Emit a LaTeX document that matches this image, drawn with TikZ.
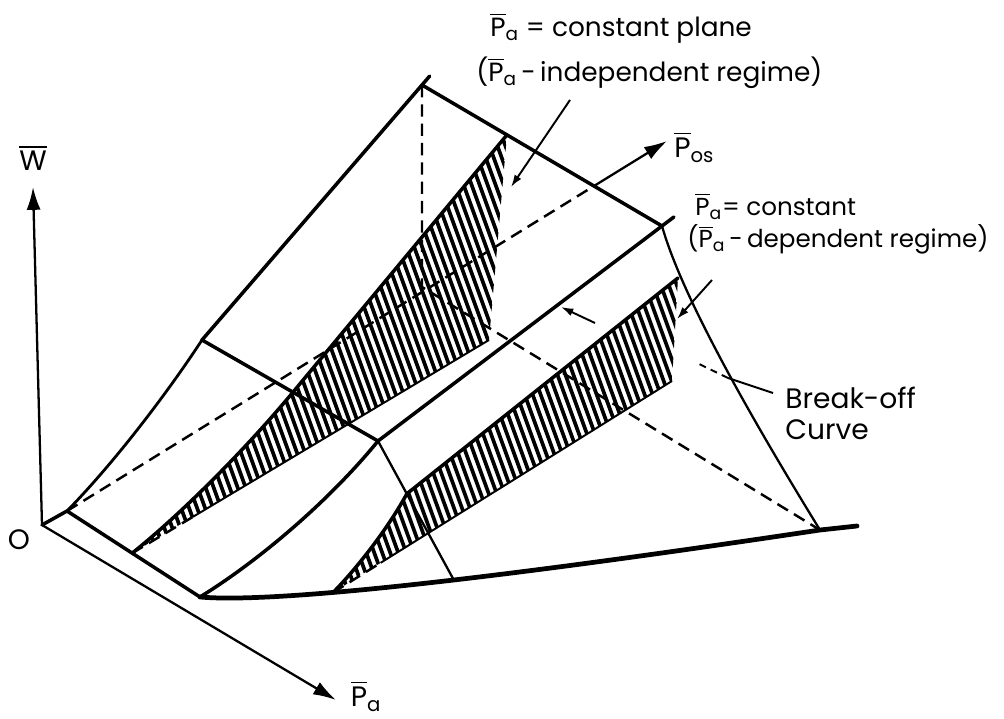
\documentclass[tikz,border=0pt]{standalone}
\usepackage{amsmath}
\usepackage{fontspec}
\setmainfont{Poppins}
\usetikzlibrary{arrows.meta,calc}

\newcommand{\pbar}[1]{$\overline{\text{P}}_{\text{#1}}$}
\newcommand{\wbar}{$\overline{\text{W}}$}

\tikzset{
  >=Latex,
  edge/.style={line width=2pt, line cap=round, line join=round},
  bold/.style={line width=2.7pt, line cap=round},
  thinedge/.style={line width=1.3pt, line cap=round},
  axis/.style={line width=1.3pt, -{Latex[length=13pt,width=8pt]}},
  hidden/.style={line width=1.4pt, dash pattern=on 7pt off 4pt},
  hatch/.style={line width=2.1pt},
  leader/.style={line width=1.1pt},
  pointer/.style={line width=1.1pt, -{Latex[length=7pt,width=4.5pt]}},
  lbl/.style={inner sep=0pt, font=\fontsize{16}{19}\selectfont}
}

\begin{document}
\begin{tikzpicture}[x=0.02cm,y=-0.02cm]
\useasboundingbox (0,0) rectangle (1004,719);

% ------------------------------------------------------------------
% corner points of the surface (pixel grid, y downwards)
% ------------------------------------------------------------------
\coordinate (O) at (42,525);
\coordinate (A) at (67,511);
\coordinate (B) at (202,340);
\coordinate (C) at (422,85);
\coordinate (D) at (662,226);
\coordinate (E) at (820,530);
\coordinate (F) at (200,597);
\coordinate (G) at (378,441);
\coordinate (Cbase) at (422,287);
\coordinate (tipW) at (33,187);
\coordinate (tipPa) at (336,700);
\coordinate (tipPos) at (667,141);
\coordinate (endBot) at (857,526);

% front bottom curve
\draw[bold] (F) .. controls (280,604) and (520,575) .. (E)
  coordinate[pos=0.34] (T2) coordinate[pos=0.54] (H) -- (endBot);

% points of the two constant planes
\coordinate (T1) at ($(A)!0.49!(F)$);
\coordinate (K1) at ($(B)!0.517!(G)$);
\coordinate (U1) at ($(C)!0.354!(D)$);
\coordinate (V1) at (489,340);
\coordinate (L1) at ($(T1)!0.17!(V1)$);
\coordinate (K2) at ($(G)!0.38!(H)$);
\coordinate (U2) at (678,278);
\coordinate (V2) at (672,381);
\coordinate (L2) at ($(T2)!0.14!(V2)$);

% ------------------------------------------------------------------
% hatched planes
% ------------------------------------------------------------------
\begin{scope}
  \clip (T1) .. controls (180,515) and (245,450) .. (K1) -- (U1) -- (V1) -- cycle;
  \foreach \h in {-40,-32,...,512}
    \draw[hatch] (\h,120) -- ++(160,440);
\end{scope}
\begin{scope}
  \clip (T2) .. controls (360,565) and (390,525) .. (K2) -- (U2) -- (V2) -- cycle;
  \foreach \h in {200,208,...,684}
    \draw[hatch] (\h,250) -- ++(130,357);
\end{scope}

% ------------------------------------------------------------------
% surface edges
% ------------------------------------------------------------------
\draw[edge] (O) -- (A) -- (F);
\draw[line width=1.6pt] (A) .. controls (115,462) and (168,392) .. (B);
\draw[edge] (B) -- ($(B)!1.035!(C)$);
\draw[edge] (C) -- (D);
\draw[edge] (B) -- (G);
\draw[edge] (F) .. controls (260,560) and (330,500) .. (G);
\draw[edge] (G) -- ($(G)!1.042!(D)$);
\draw[thinedge] (G) -- (H);
\draw[thinedge] (D) .. controls (680,290) and (740,400) .. (E);

% profiles on the constant planes
\draw[edge] (T1) .. controls (180,515) and (245,450) .. (K1) -- (U1);
\draw[edge] (T2) .. controls (360,565) and (390,525) .. (K2) -- (U2);
\draw[hidden] (T1) -- (L1);
\draw[leader] (L1) -- (V1);
\draw[hidden] (T2) -- (L2);
\draw[leader] (L2) -- (V2);

% hidden lines
\coordinate (X) at (intersection of A--tipPos and C--D);
\draw[hidden] (A) -- (X);
\draw[hidden] (C) -- (Cbase) -- (E);

% ------------------------------------------------------------------
% axes
% ------------------------------------------------------------------
\draw[axis] (O) -- (tipW);
\draw[axis] (O) -- (tipPa);
\draw[axis] (X) -- (tipPos);

\node[lbl] (lblW) at (33,158) {\wbar};
\node[lbl] (lblO) at (19,540) {O};
\node[lbl] (lblPa) at (366,696) {\pbar{a}};
\node[lbl, anchor=west] (lblPos) at (674,147) {\pbar{os}};

% ------------------------------------------------------------------
% labels and leaders
% ------------------------------------------------------------------
\node[lbl, anchor=north west, align=left, font=\fontsize{15}{25.6}\selectfont]
  (lblPlane) at (476,13)
  {\hspace*{0.28cm}\pbar{a} = constant plane\\(\pbar{a}\,-\,independent regime)};
\node[lbl, anchor=north west, align=left, font=\fontsize{14}{18.4}\selectfont]
  (lblDep) at (687,193)
  {\hspace*{0.16cm}\pbar{a}= constant\\(\pbar{a}\,-\,dependent regime)};
\node[lbl, anchor=north west, align=left, font=\fontsize{16}{17.6}\selectfont]
  (lblBreak) at (785,387) {Break-off\\Curve};

\coordinate (lead1a) at (570,100);
\coordinate (lead1b) at (511,187);
\coordinate (lead2a) at (712,280);
\coordinate (lead2b) at (677,319);
\coordinate (markA) at (595,323);
\coordinate (markB) at (561,307);
\coordinate (lead3a) at (773,393);
\coordinate (lead3b) at (728,378);
\coordinate (lead3c) at (695,362);

\draw[pointer] (lead1a) -- (lead1b);
\draw[pointer] (lead2a) -- (lead2b);
\draw[pointer] (markA) -- (markB);
\draw[leader] (lead3a) -- (lead3b);
\draw[leader, dash pattern=on 4pt off 3pt] (lead3b) -- (lead3c);

\end{tikzpicture}
\end{document}
